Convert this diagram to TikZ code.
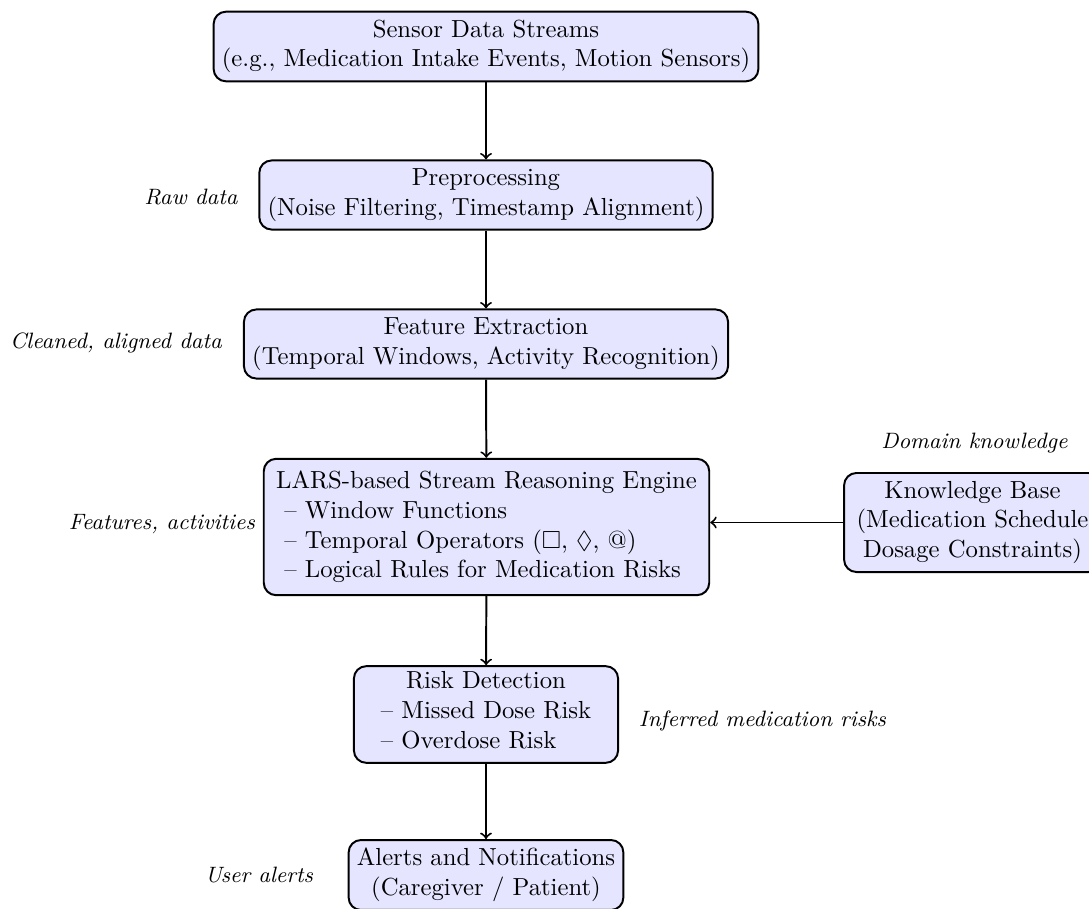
\documentclass[tikz,border=0pt]{standalone}
\usepackage{amssymb}
\begin{document}
\begin{tikzpicture}[x=0.405pt,y=-0.405pt,
  box/.style={draw, thick, rounded corners=5pt, fill=blue!10, align=center},
  lbl/.style={font=\small\itshape},
  arr/.style={->, thick}]
\useasboundingbox (0,0) rectangle (1089,909);
\node[box] (src) at (486,46.5) {Sensor Data Streams\\(e.g., Medication Intake Events, Motion Sensors)};
\node[box] (pre) at (486,195) {Preprocessing\\(Noise Filtering, Timestamp Alignment)};
\node[box] (feat) at (486,344) {Feature Extraction\\(Temporal Windows, Activity Recognition)};
\node[box, align=left, inner sep=5pt] (lars) at (486.5,527) {LARS-based Stream Reasoning Engine\\\ -- Window Functions\\\ -- Temporal Operators ($\Box$, $\Diamond$, @)\\\ -- Logical Rules for Medication Risks};
\node[box, minimum width=104pt] (kb) at (972.5,522.5) {Knowledge Base\\(Medication Schedule\\Dosage Constraints)};
\node[box, minimum width=107pt, inner ysep=2.3pt] (risk) at (486,714.5) {Risk Detection\\\begin{tabular}[t]{@{}l@{}}-- Missed Dose Risk\\-- Overdose Risk\end{tabular}};
\node[box] (alert) at (486,875) {Alerts and Notifications\\(Caregiver / Patient)};
\node[lbl] (l1) at (191,197) {Raw data};
\node[lbl] (l2) at (116,343) {Cleaned, aligned data};
\node[lbl] (l3) at (162,524) {Features, activities};
\node[lbl] (l4) at (974.5,443) {Domain knowledge};
\node[lbl] (l5) at (762.5,721) {Inferred medication risks};
\node[lbl] (l6) at (259,875) {User alerts};
\draw[arr] (src) -- (pre);
\draw[arr] (pre) -- (feat);
\draw[arr] (feat) -- (lars);
\draw[arr] (lars) -- (risk);
\draw[arr] (risk) -- (alert);
\draw[arr] (kb.west) -- (kb.west -| lars.east);
\end{tikzpicture}
\end{document}
